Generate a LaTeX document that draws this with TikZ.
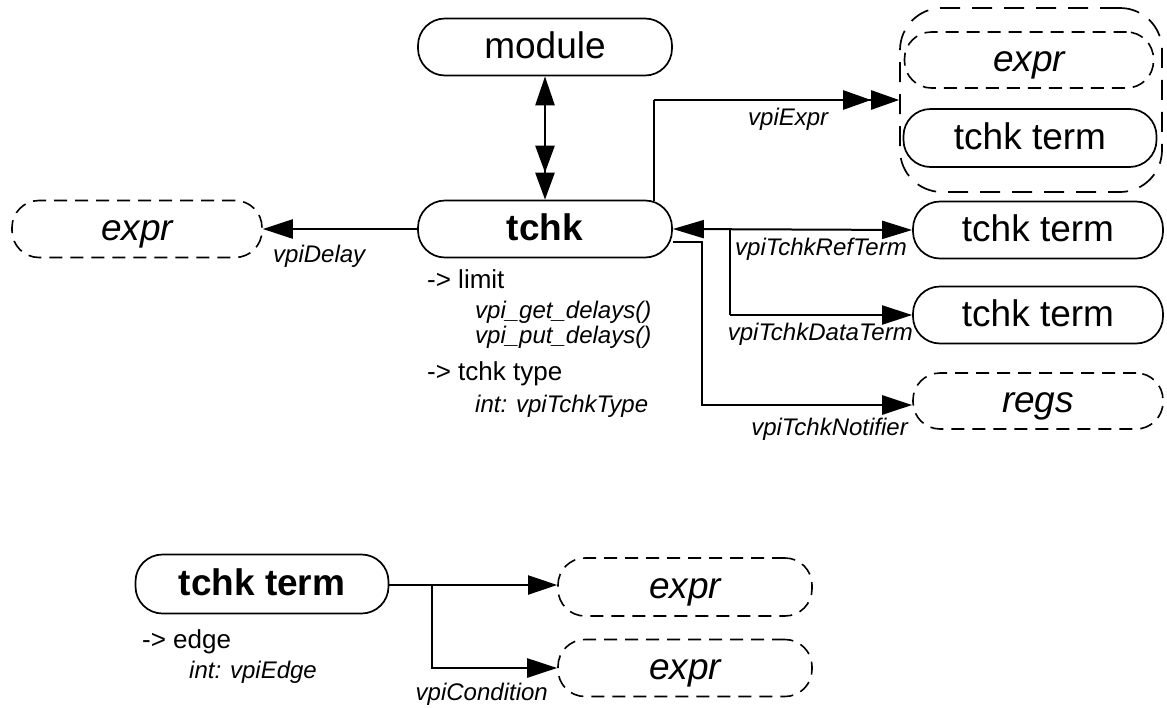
\documentclass[tikz,border=0pt]{standalone}
\usepackage{fontspec}
\setmainfont{Liberation Sans}
\usetikzlibrary{arrows.meta,positioning}
\tikzset{
  obj/.style={draw, line width=1.7pt, rounded corners=27pt, minimum width=254pt, minimum height=57pt,
    inner sep=0pt, text height=27pt, text depth=5pt, font=\fontsize{37}{40}\selectfont},
  dobj/.style={obj, line width=1.6pt, dash pattern=on 13pt off 8pt},
  bobj/.style={obj, font=\fontsize{37}{40}\selectfont\bfseries},
  iobj/.style={dobj, font=\fontsize{37}{40}\selectfont\itshape},
  grp/.style={draw, line width=1.7pt, dash pattern=on 20pt off 12pt, rounded corners=42pt, inner sep=0pt},
  lbl/.style={font=\fontsize{24}{28}\selectfont\itshape, inner sep=0pt},
  ann/.style={font=\fontsize{26}{30}\selectfont, inner sep=0pt, anchor=base west},
  sub/.style={ann, font=\fontsize{24}{28}\selectfont\itshape},
  conn/.style={line width=2.4pt, -{Triangle[length=30pt,width=19pt]}},
}
\begin{document}
\begin{tikzpicture}[x=1pt,y=-1pt]
\useasboundingbox (0,0) rectangle (1167,707);
% nodes
\node[obj] (module) at (545,47) {module};
\node[bobj] (tchk) at (545,229) {tchk};
\node[iobj, minimum width=250pt] (exprL) at (137,229) {expr};
\node[grp, minimum width=262pt, minimum height=184pt] (group) at (1031,100) {};
\node[iobj, minimum width=249pt, minimum height=56pt] (exprT) at (1029,60) {expr};
\node[obj, minimum width=253pt, minimum height=58pt] (termT) at (1030,138) {tchk term};
\node[obj, minimum width=250pt] (termRef) at (1038,230) {tchk term};
\node[obj, minimum width=250pt] (termData) at (1038,315) {tchk term};
\node[iobj, minimum width=250pt, minimum height=56pt] (regs) at (1038,401) {regs};
\node[bobj, minimum width=253pt, minimum height=59pt] (termB) at (262,584) {tchk term};
\node[iobj, minimum width=254pt, minimum height=58pt] (expr1) at (685,587) {expr};
\node[iobj, minimum width=254pt, minimum height=57pt] (expr2) at (685,668) {expr};
% coordinates
\coordinate (eTop) at (654,100);
\coordinate (eStart) at (654,201);
\coordinate (nA) at (702,242);
\coordinate (nB) at (702,405);
\coordinate (dA) at (730,229);
\coordinate (dB) at (730,315);
\coordinate (bA) at (432,585);
\coordinate (bB) at (432,668);
% connectors
\draw[line width=2.6pt, {Triangle[length=29pt,width=19pt]}-{Triangle[length=27pt,width=19pt]Triangle[length=27pt,width=19pt]}] (module.south) -- (tchk.north);
\draw[line width=1.7pt] (eStart) -- (eTop);
\draw[line width=2.6pt, -{Triangle[length=28pt,width=19pt]Triangle[length=28pt,width=19pt]}] (eTop) -- (group.west |- eTop);
\draw[conn] (tchk.west) -- (exprL.east);
\draw[line width=2pt, {Triangle[length=31pt,width=18pt]}-{Triangle[length=30pt,width=18pt]}] (tchk.east) -- (termRef.west);
\draw[line width=1.6pt] (dA) -- (dB);
\draw[line width=2pt, -{Triangle[length=30pt,width=19pt]}] (dB) -- (termData.west);
\draw[conn, line width=2.7pt] (tchk.east |- nA) -- (nA) -- (nB) -- (regs.west |- nB);
\draw[line width=1.6pt] (termB.east |- bA) -- (bA);
\draw[line width=2pt, -{Triangle[length=29pt,width=19pt]}] (bA) -- (expr1.west |- bA);
\draw[conn] (bA) -- (bB) -- (expr2.west |- bB);
% labels
\node[lbl, anchor=base west] (lExpr) at (748,125) {vpiExpr};
\node[lbl, anchor=base west] (lDelay) at (273,262) {vpiDelay};
\node[lbl, anchor=base east] (lRef) at (907,255) {vpiTchkRefTerm};
\node[lbl, anchor=base east] (lData) at (913,340) {vpiTchkDataTerm};
\node[lbl, anchor=base east] (lNot) at (908,435) {vpiTchkNotifier};
\node[lbl, anchor=base east] (lCond) at (548,700) {vpiCondition};
% annotations
\node[ann] (a1) at (427,288) {-> limit};
\node[sub] (a2) at (475,318) {vpi\_get\_delays()};
\node[sub] (a3) at (475,343) {vpi\_put\_delays()};
\node[ann] (a4) at (427,380) {-> tchk type};
\node[sub] (a5) at (475,412) {int: vpiTchkType};
\node[ann] (a6) at (142,648) {-> edge};
\node[sub] (a7) at (189,678) {int: vpiEdge};
\end{tikzpicture}
\end{document}
